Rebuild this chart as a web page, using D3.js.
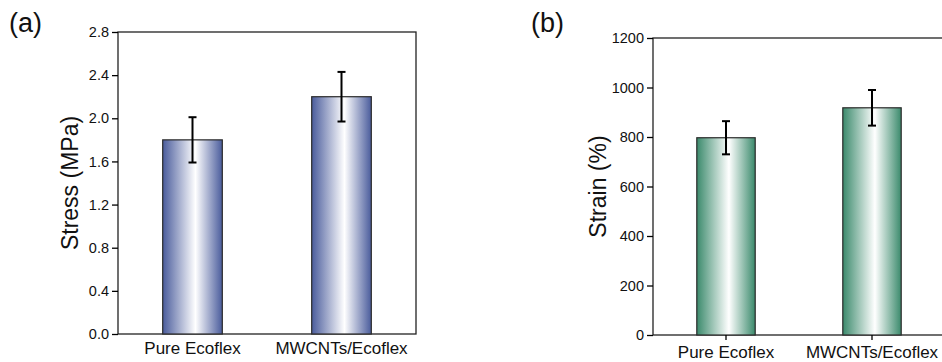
<!DOCTYPE html>
<html>
<head>
<meta charset="utf-8">
<script src="https://cdn.jsdelivr.net/npm/d3@7"></script>
<style>
  body { margin: 0; background: #fff; }
  svg { font-family: "Liberation Sans", Arial, sans-serif; }
  .axis path, .axis line { stroke: #000; stroke-width: 1.3; }
  .axis text { font-size: 14.5px; fill: #111; }
</style>
</head>
<body>
<svg id="chart" width="942" height="362"></svg>
<script>
'use strict';

var categories = ['Pure Ecoflex', 'MWCNTs/Ecoflex'];
var stressMean = [1.80, 2.20];
var stressErr = [0.21, 0.23];
var strainMean = [797, 918];
var strainErr = [67, 72];
var stressTicks = [0.0, 0.4, 0.8, 1.2, 1.6, 2.0, 2.4, 2.8];
var strainTicks = [0, 200, 400, 600, 800, 1000, 1200];

var svg = d3.select('#chart');
var defs = svg.append('defs');

function gradient(id, edge) {
  var g = defs.append('linearGradient')
    .attr('id', id)
    .attr('x1', '0%').attr('x2', '100%')
    .attr('y1', '0%').attr('y2', '0%');
  g.append('stop').attr('offset', '0%').attr('stop-color', edge);
  g.append('stop').attr('offset', '55%').attr('stop-color', '#ffffff');
  g.append('stop').attr('offset', '100%').attr('stop-color', edge);
}
gradient('gradBlue', '#4a5c9c');
gradient('gradGreen', '#3b8a6c');

function panel(opt) {
  var box = opt.box;
  var w = box.right - box.left;
  var h = box.bottom - box.top;

  var x = d3.scaleLinear().domain([0, 1]).range([0, w]);
  var y = d3.scaleLinear().domain(opt.domain).range([h, 0]);

  var g = svg.append('g')
    .attr('transform', 'translate(' + box.left + ',' + box.top + ')');

  // frame
  g.append('rect')
    .attr('x', 0).attr('y', 0)
    .attr('width', w).attr('height', h)
    .attr('fill', 'none')
    .attr('stroke', '#222')
    .attr('stroke-width', 1.3);

  var yAxis = d3.axisLeft(y)
    .tickValues(opt.ticks)
    .tickFormat(opt.format)
    .tickSize(6)
    .tickPadding(3);
  g.append('g').attr('class', 'axis').call(yAxis)
    .select('.domain').remove();

  var centers = categories.map(function (c, i) { return x(0.25 + 0.5 * i); });
  var barW = x(opt.barFrac);

  g.selectAll('rect.bar').data(opt.mean).enter()
    .append('rect')
    .classed('bar', true)
    .attr('x', function (d, i) { return centers[i] - barW / 2; })
    .attr('y', function (d) { return y(d); })
    .attr('width', barW)
    .attr('height', function (d) { return h - y(d); })
    .attr('fill', 'url(#' + opt.grad + ')')
    .attr('stroke', '#2a2a2a')
    .attr('stroke-width', 1.2);

  opt.mean.forEach(function (m, i) {
    var e = opt.err[i];
    var cx = centers[i];
    g.append('line')
      .attr('x1', cx).attr('x2', cx)
      .attr('y1', y(m + e)).attr('y2', y(m - e))
      .attr('stroke', '#000').attr('stroke-width', 2);
    [m + e, m - e].forEach(function (v) {
      g.append('line')
        .attr('x1', cx - 4).attr('x2', cx + 4)
        .attr('y1', y(v)).attr('y2', y(v))
        .attr('stroke', '#000').attr('stroke-width', 2);
    });
    if (opt.xTicks) {
      g.append('line')
        .attr('x1', cx).attr('x2', cx)
        .attr('y1', h).attr('y2', h + 5)
        .attr('stroke', '#000').attr('stroke-width', 1.3);
    }
    g.append('text')
      .attr('x', cx)
      .attr('y', h + opt.catDy)
      .attr('text-anchor', 'middle')
      .attr('font-size', 17)
      .attr('fill', '#111')
      .text(categories[i]);
  });

  // y axis title
  g.append('text')
    .attr('transform', 'translate(' + opt.titleX + ',' + (h / 2) + ') rotate(-90)')
    .attr('text-anchor', 'middle')
    .attr('font-size', 23)
    .attr('fill', '#111')
    .text(opt.title);

  // panel label
  svg.append('text')
    .attr('x', opt.label[0])
    .attr('y', opt.label[1])
    .attr('font-size', 27)
    .attr('fill', '#111')
    .text(opt.labelText);
}

panel({
  box: {left: 118, right: 416, top: 32, bottom: 334},
  domain: [0, 2.8],
  ticks: stressTicks,
  format: d3.format('.1f'),
  mean: stressMean,
  err: stressErr,
  barFrac: 0.2,
  grad: 'gradBlue',
  xTicks: false,
  catDy: 20,
  title: 'Stress (MPa)',
  titleX: -40,
  label: [9, 32],
  labelText: '(a)'
});

panel({
  box: {left: 653, right: 945, top: 38, bottom: 335},
  domain: [0, 1200],
  ticks: strainTicks,
  format: d3.format('d'),
  mean: strainMean,
  err: strainErr,
  barFrac: 0.2,
  grad: 'gradGreen',
  xTicks: true,
  catDy: 23,
  title: 'Strain (%)',
  titleX: -47,
  label: [531, 32],
  labelText: '(b)'
});
</script>
</body>
</html>
